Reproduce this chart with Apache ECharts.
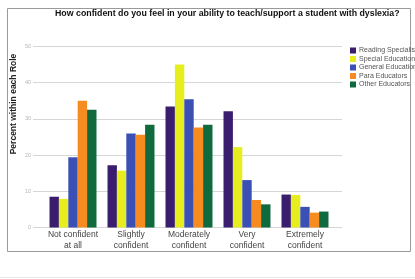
<!DOCTYPE html>
<html><head><meta charset="utf-8">
<script src="https://cdn.jsdelivr.net/npm/echarts@6/dist/echarts.min.js"></script>
<style>html,body{margin:0;padding:0;background:#fff}#c{width:415px;height:279px}</style>
</head><body><div id="c"></div>
<script>
const categories = ['Not confident\nat all', 'Slightly\nconfident', 'Moderately\nconfident', 'Very\nconfident', 'Extremely\nconfident'];
const roles = ['Reading Specialist', 'Special Education', 'General Education', 'Para Educators', 'Other Educators'];
const readingSpecialist = [8.5, 17.2, 33.4, 32.1, 9.1];
const specialEducation = [7.9, 15.7, 45.0, 22.2, 9.0];
const generalEducation = [19.4, 26.0, 35.4, 13.1, 5.7];
const paraEducators = [35.0, 25.6, 27.6, 7.6, 4.1];
const otherEducators = [32.5, 28.4, 28.4, 6.4, 4.4];
const yTicks = [0, 10, 20, 30, 40, 50];

const values = [readingSpecialist, specialEducation, generalEducation, paraEducators, otherEducators];
const colors = ['#3b1d6e', '#e6ee1e', '#3a50b4', '#f68b1f', '#0f6a3e'];
const TOP = 46.5, BOTTOM = 279 - 227.5;

const chart = echarts.init(document.getElementById('c'), null, {renderer: 'canvas'});
chart.setOption({
  backgroundColor: '#fff',
  animation: false,
  title: {
    text: 'How confident do you feel in your ability to teach/support a student with dyslexia?',
    left: 55, top: 9, padding: 0,
    textStyle: {fontFamily: 'Liberation Sans', fontSize: 8.8, fontWeight: 'bold', color: '#111'}
  },
  legend: {
    data: roles, orient: 'vertical', left: 345, top: 42,
    itemWidth: 6, itemHeight: 6, itemGap: 1.5, icon: 'rect',
    textStyle: {fontFamily: 'Liberation Sans', fontSize: 7, color: '#555', padding: [0, 0, 0, -2]}
  },
  graphic: [
    {type: 'rect', shape: {x: 7.5, y: 8.5, width: 403, height: 243}, style: {fill: 'none', stroke: '#9a9a9a', lineWidth: 1}, z: -1},
    {type: 'line', shape: {x1: 0, y1: 277.5, x2: 415, y2: 277.5}, style: {stroke: '#e6e6e6', lineWidth: 1}},
    {type: 'text', x: 14, y: 104, rotation: Math.PI / 2,
     style: {text: 'Percent within each Role', fontFamily: 'Liberation Sans', fontSize: 8.5, fontWeight: 'bold', fill: '#222', align: 'center', verticalAlign: 'middle'}}
  ],
  grid: [
    {left: 33, right: 415 - 342, top: TOP, bottom: BOTTOM},
    {left: 44, right: 415 - 334, top: TOP, bottom: BOTTOM}
  ],
  xAxis: [
    {gridIndex: 0, type: 'value', show: false, min: 0, max: 1},
    {gridIndex: 1, type: 'category', data: categories,
     axisLine: {show: false}, axisTick: {show: false},
     axisLabel: {fontFamily: 'Liberation Sans', fontSize: 8.5, color: '#444', lineHeight: 11, margin: 2, interval: 0}}
  ],
  yAxis: [
    {gridIndex: 0, type: 'value', min: 0, max: 50, interval: 10,
     axisLine: {show: false}, axisTick: {show: false},
     axisLabel: {fontFamily: 'Liberation Sans', fontSize: 5.5, color: '#b5b5b5', margin: 2,
                 formatter: v => yTicks.includes(v) ? String(v) : ''},
     splitLine: {lineStyle: {color: '#d6d6d6', width: 1}}},
    {gridIndex: 1, type: 'value', min: 0, max: 50, show: false, splitLine: {show: false}}
  ],
  series: roles.map((r, i) => ({
    name: r, type: 'bar', xAxisIndex: 1, yAxisIndex: 1,
    data: values[i], barGap: '0%', barCategoryGap: '19%',
    itemStyle: {color: colors[i]}
  }))
});
</script></body></html>
